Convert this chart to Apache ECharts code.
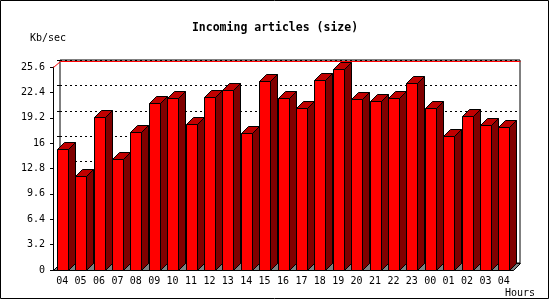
<!doctype html>
<html>
<head>
<meta charset="utf-8">
<title>Incoming articles (size)</title>
<script src="https://cdn.jsdelivr.net/npm/echarts@6/dist/echarts.min.js"></script>
<style>
  html, body { margin: 0; padding: 0; background: #fff; }
  #main { width: 550px; height: 300px; }
</style>
</head>
<body>
<div id="main"></div>
<script>
  // hours of the day (last 24h + current)
  var hours = ['04', '05', '06', '07', '08', '09', '10', '11', '12', '13', '14', '15',
               '16', '17', '18', '19', '20', '21', '22', '23', '00', '01', '02', '03', '04'];
  // Kb/sec per hour
  var kbPerSec = [15.3, 11.8, 19.3, 14.0, 17.4, 21.1, 21.7, 18.4, 21.8, 22.7, 17.3, 23.8,
                  21.7, 20.4, 24.0, 25.4, 21.6, 21.3, 21.7, 23.6, 20.4, 16.9, 19.4, 18.3, 18.0];
  var yMax = 25.6;
  var yStep = 3.2;

  var FONT = 'DejaVu Sans Mono';
  var DEPTH = 7;

  var chart = echarts.init(document.getElementById('main'));

  function crisp(v) {
    return Math.round(v) + 0.5;
  }

  function renderBar(params, api) {
    var top = api.coord([api.value(0), api.value(1)]);
    var base = api.coord([api.value(0), 0]);
    var w = Math.round(api.size([1, 0])[0] * 0.6);
    var x0 = crisp(top[0] - w / 2);
    var yt = crisp(top[1]);
    var yb = crisp(base[1]);
    var d = DEPTH;
    var line = { stroke: '#000', lineWidth: 1 };
    return {
      type: 'group',
      children: [
        {
          type: 'polygon',
          shape: { points: [[x0 + w, yt], [x0 + w + d, yt - d], [x0 + w + d, yb - d], [x0 + w, yb]] },
          style: Object.assign({ fill: '#800000' }, line)
        },
        {
          type: 'polygon',
          shape: { points: [[x0, yt], [x0 + d, yt - d], [x0 + w + d, yt - d], [x0 + w, yt]] },
          style: Object.assign({ fill: '#c00000' }, line)
        },
        {
          type: 'rect',
          shape: { x: x0, y: yt, width: w, height: yb - yt },
          style: Object.assign({ fill: '#ff0000' }, line)
        }
      ]
    };
  }

  // floor of the 3d box and the red max line on the back wall
  function renderFrame(params, api) {
    var cs = params.coordSys;
    var d = DEPTH;
    var l = crisp(cs.x), r = crisp(cs.x + cs.width);
    var t = crisp(cs.y), b = crisp(cs.y + cs.height);
    return {
      type: 'group',
      children: [
        {
          type: 'polygon',
          shape: { points: [[l, b], [r, b], [r + d, b - d], [l + d, b - d]] },
          style: { fill: '#808080', stroke: '#000', lineWidth: 1 }
        },
        {
          type: 'polyline',
          shape: { points: [[l, t], [l + d, t - d + 1], [r + d, t - d + 1]] },
          style: { fill: null, stroke: '#ff0000', lineWidth: 1 }
        }
      ]
    };
  }

  var option = {
    animation: false,
    backgroundColor: '#fff',
    title: [
      {
        text: 'Incoming articles (size)',
        left: 'center',
        top: 22,
        padding: 0,
        textStyle: { fontFamily: FONT, fontSize: 11.5, fontWeight: 'bold', color: '#000' }
      },
      {
        text: 'Kb/sec',
        left: 30,
        top: 33,
        padding: 0,
        textStyle: { fontFamily: FONT, fontSize: 10, fontWeight: 'normal', color: '#000' }
      },
      {
        text: 'Hours',
        left: 505,
        top: 288,
        padding: 0,
        textStyle: { fontFamily: FONT, fontSize: 10, fontWeight: 'normal', color: '#000' }
      }
    ],
    graphic: [
      {
        type: 'rect',
        shape: { x: 0.5, y: 0.5, width: 548, height: 298 },
        style: { fill: null, stroke: '#000', lineWidth: 1 },
        z: 100
      }
    ],
    grid: [
      { left: 53, top: 67, width: 460, height: 203 },
      { left: 60, top: 60, width: 460, height: 203, show: true, borderColor: '#000', borderWidth: 1 }
    ],
    xAxis: [
      {
        type: 'category',
        gridIndex: 0,
        data: hours,
        boundaryGap: true,
        axisLine: { lineStyle: { color: '#000', width: 1 } },
        axisTick: { length: 4, lineStyle: { color: '#000' } },
        axisLabel: { fontFamily: FONT, fontSize: 10, color: '#000', margin: 6, interval: 0 },
        splitLine: { show: false }
      },
      { type: 'value', gridIndex: 1, show: false, min: 0, max: 1 }
    ],
    yAxis: [
      {
        type: 'value',
        gridIndex: 0,
        min: 0,
        max: yMax,
        interval: yStep,
        axisLine: { show: true, lineStyle: { color: '#000', width: 1 } },
        axisTick: { show: true, length: 3, lineStyle: { color: '#000' } },
        axisLabel: { fontFamily: FONT, fontSize: 10, color: '#000', margin: 8 },
        splitLine: { show: false }
      },
      {
        type: 'value',
        gridIndex: 1,
        position: 'right',
        min: 0,
        max: yMax,
        interval: yStep,
        axisLine: { show: false },
        axisTick: { show: true, inside: true, length: 3, lineStyle: { color: '#000' } },
        axisLabel: { show: false },
        splitLine: { show: true, lineStyle: { color: '#000', width: 1, type: [2, 3] } }
      }
    ],
    series: [
      {
        type: 'custom',
        xAxisIndex: 0,
        yAxisIndex: 0,
        renderItem: renderFrame,
        data: [[0, 0]],
        silent: true,
        z: 1
      },
      {
        type: 'custom',
        xAxisIndex: 0,
        yAxisIndex: 0,
        renderItem: renderBar,
        encode: { x: 0, y: 1 },
        data: kbPerSec.map(function (v, i) { return [i, v]; }),
        z: 2
      }
    ]
  };

  chart.setOption(option);
</script>
</body>
</html>
